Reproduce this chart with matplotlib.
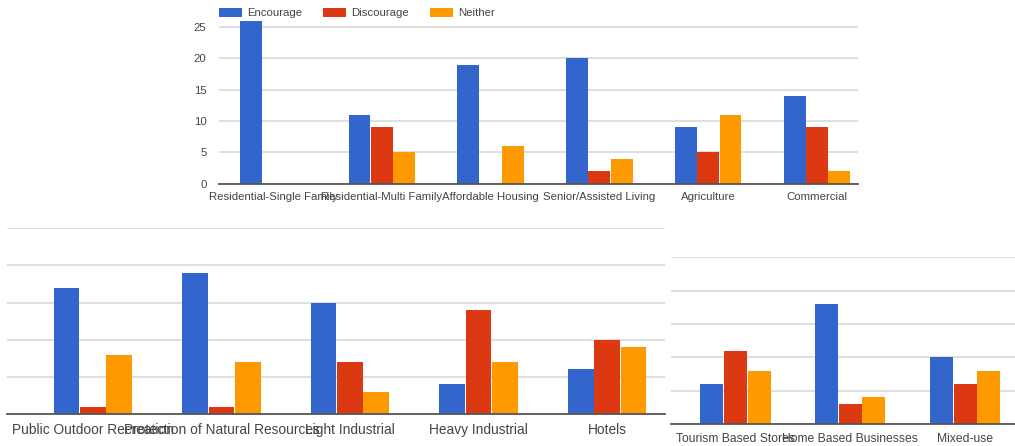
import matplotlib
matplotlib.use("Agg")
import matplotlib.pyplot as plt
import numpy as np

plt.rcParams['font.family'] = ['Liberation Sans', 'DejaVu Sans']

series = ["Encourage", "Discourage", "Neither"]
colors = ["#3366cc", "#dc3912", "#ff9900"]

# top chart
top_cats = ["Residential-Single Family", "Residential-Multi Family", "Affordable Housing",
            "Senior/Assisted Living", "Agriculture", "Commercial"]
top_encourage = [26, 11, 19, 20, 9, 14]
top_discourage = [0, 9, 0, 2, 5, 9]
top_neither = [0, 5, 6, 4, 11, 2]

# bottom left chart
left_cats = ["Public Outdoor Recreation", "Protection of Natural Resources",
             "Light Industrial", "Heavy Industrial", "Hotels"]
left_encourage = [17, 19, 15, 4, 6]
left_discourage = [1, 1, 7, 14, 10]
left_neither = [8, 7, 3, 7, 9]

# bottom right chart
right_cats = ["Tourism Based Stores", "Home Based Businesses", "Mixed-use"]
right_encourage = [6, 18, 10]
right_discourage = [11, 3, 6]
right_neither = [8, 4, 8]

y_ticks = [0, 5, 10, 15, 20, 25]

W, H = 1015, 446
fig = plt.figure(figsize=(W / 100, H / 100), dpi=100)


def px_axes(left, right, top, bottom):
    # box given in pixels from the top-left corner
    return fig.add_axes([left / W, 1 - bottom / H, (right - left) / W, (bottom - top) / H])


def draw_bars(ax, cats, vals, fontsize, pad):
    x = np.arange(len(cats))
    for k, v in enumerate(vals):
        ax.bar(x + (k - 1) * 0.205, v, width=0.2, color=colors[k], label=series[k], zorder=3)
    ax.set_xticks(x)
    ax.set_xticklabels(cats, fontsize=fontsize, color='#444444')
    ax.tick_params(axis='x', length=0, pad=pad)
    ax.set_yticks(y_ticks)
    ax.grid(axis='y', color='#d6d6d6', lw=1.1)
    ax.set_axisbelow(True)
    for s in ['top', 'right', 'left']:
        ax.spines[s].set_visible(False)
    ax.spines['bottom'].set_color('#555555')
    ax.spines['bottom'].set_linewidth(1.3)
    ax.spines['bottom'].set_zorder(4)


# top
ax1 = px_axes(219, 858, 17.5, 183.7)
draw_bars(ax1, top_cats, [top_encourage, top_discourage, top_neither], 8.2, 6)
ax1.set_xlim(-0.496, 5.377)
ax1.set_ylim(0, 26.5)
ax1.tick_params(axis='y', length=0, pad=9, labelsize=8.2, labelcolor='#444444')

# bottom left
ax2 = px_axes(6.7, 665, 228.3, 414)
draw_bars(ax2, left_cats, [left_encourage, left_discourage, left_neither], 9.9, 6.5)
ax2.set_xlim(-0.67, 4.45)
ax2.set_ylim(0, 25)
ax2.tick_params(axis='y', length=0, labelleft=False)

# bottom right
ax3 = px_axes(671, 1015, 257.3, 424)
draw_bars(ax3, right_cats, [right_encourage, right_discourage, right_neither], 8.7, 6.5)
ax3.set_xlim(-0.562, 2.435)
ax3.set_ylim(0, 25)
ax3.tick_params(axis='y', length=0, labelleft=False)

handles, labels = ax1.get_legend_handles_labels()
fig.legend(handles, labels, loc='upper left', bbox_to_anchor=(219 / W, 1 - 7.5 / H),
           ncol=3, frameon=False, fontsize=8.2, labelcolor='#444444',
           handlelength=2.0, handleheight=0.9, handletextpad=0.5, columnspacing=1.8,
           borderpad=0, borderaxespad=0)

fig.savefig("out.png", dpi=100)
